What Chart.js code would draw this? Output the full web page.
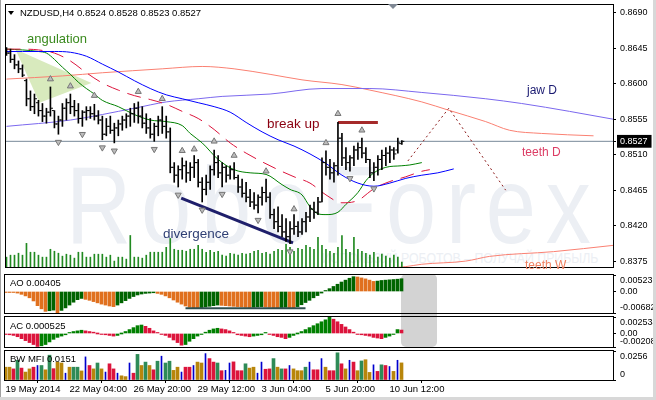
<!DOCTYPE html>
<html>
<head>
<meta charset="utf-8">
<script src="https://cdn.jsdelivr.net/npm/chart.js@4.4.1/dist/chart.umd.min.js"></script>
<style>
  body { margin: 0; background: #fff; }
  #wrap { position: relative; width: 656px; height: 400px; overflow: hidden; background: #fff;
          font-family: 'Liberation Sans', Arial, sans-serif; }
  #wrap canvas { position: absolute; left: 0; }
  .txt { position: absolute; white-space: nowrap; line-height: 1; }
  #mark { position: absolute; left: 66px; top: 150px; font: 110px 'Liberation Sans', Arial, sans-serif;
          line-height: 110px; letter-spacing: 12px; color: #eceff4; white-space: nowrap;
          transform: scaleX(0.82); transform-origin: left top; }
  #slogan { position: absolute; right: 58px; top: 250px; font: 15px 'Liberation Sans', Arial, sans-serif;
            line-height: 15px; color: #eceff4; white-space: nowrap;
            transform: scaleX(0.82); transform-origin: right top; }
  #hideBox { position: absolute; left: 401px; top: 274px; width: 36px; height: 73px; background: #d3d3d3; border-radius: 5px; }
  #shift { position: absolute; left: 388px; top: 4px; width: 0; height: 0; border-left: 5px solid transparent;
           border-right: 5px solid transparent; border-top: 5px solid #7f8894; }
  #menu { position: absolute; left: 8px; top: 11px; width: 0; height: 0; border-left: 3.5px solid transparent;
          border-right: 3.5px solid transparent; border-top: 4px solid #000; }
  #edgeL { position: absolute; left: 0; top: 0; width: 1px; height: 400px; background: #a0a0a0; }
  #edgeR { position: absolute; right: 0; top: 0; width: 3px; height: 400px; background: #d8d8d8; }
  #edgeB { position: absolute; left: 0; bottom: 0; width: 656px; height: 3px; background: #d8d8d8; }
</style>
</head>
<body>
<div id="wrap">
  <div id="mark">RoboForex</div>
  <div id="slogan">ИСПОЛЬЗУЙ РОБОТОВ – ПОЛУЧАЙ ПРИБЫЛЬ</div>
  <div id="hideBox"></div>
  <canvas id="mainCv" width="656" height="272" style="top:0"></canvas>
  <canvas id="aoCv" width="656" height="43" style="top:272px"></canvas>
  <canvas id="acCv" width="656" height="34" style="top:315px"></canvas>
  <canvas id="bwCv" width="656" height="51" style="top:349px"></canvas>
  <div id="menu"></div>
  <div id="shift"></div>
  <div class="txt" id="title" style="left:20px;top:8px;font-size:9.5px;color:#000"></div>
  <div class="txt" style="left:27px;top:32px;font-size:13px;color:#3a8a1e">angulation</div>
  <div class="txt" style="left:267px;top:117px;font-size:13.5px;color:#8b0010">break up</div>
  <div class="txt" style="left:163px;top:227px;font-size:13.5px;color:#2f3f74">divergence</div>
  <div class="txt" style="left:527px;top:84px;font-size:12px;color:#191970">jaw D</div>
  <div class="txt" style="left:522px;top:146px;font-size:12px;color:#dc3c64">teeth D</div>
  <div class="txt" style="left:525px;top:259px;font-size:12px;color:#f08060">teeth W</div>
  <div class="txt" id="aoLabel" style="left:10px;top:278px;font-size:9.5px;color:#000"></div>
  <div class="txt" id="acLabel" style="left:10px;top:321px;font-size:9.5px;color:#000"></div>
  <div class="txt" id="bwLabel" style="left:10px;top:354px;font-size:9.5px;color:#000"></div>
  <div id="edgeL"></div><div id="edgeR"></div><div id="edgeB"></div>
</div>
<script>
// ---- data ----
const symbol = 'NZDUSD,H4';
const dateTickIdx = [0, 16, 32, 48, 64, 80, 96];
const dateLabels = ['19 May 2014', '22 May 04:00', '26 May 20:00', '29 May 12:00', '3 Jun 04:00', '5 Jun 20:00', '10 Jun 12:00'];
const priceTicks = [0.8375, 0.8420, 0.8465, 0.8510, 0.8555, 0.8600, 0.8645, 0.8690];

const opens = [0.8644,0.8639,0.8631,0.8624,0.8619,0.8604,0.8581,0.8571,0.8576,0.8566,
  0.8559,0.8564,0.8566,0.8549,0.8554,0.8569,0.8576,0.8571,0.8566,0.8556,
  0.8564,0.8566,0.8562,0.8559,0.8554,0.8536,0.8546,0.8541,0.8544,0.8549,
  0.8554,0.8559,0.8562,0.8569,0.8559,0.8550,0.8544,0.8536,0.8546,0.8554,
  0.8546,0.8539,0.8494,0.8484,0.8491,0.8496,0.8487,0.8494,0.8500,0.8475,
  0.8466,0.8475,0.8491,0.8500,0.8487,0.8494,0.8484,0.8491,0.8481,0.8469,
  0.8461,0.8456,0.8450,0.8446,0.8456,0.8462,0.8456,0.8434,0.8425,0.8419,
  0.8412,0.8406,0.8416,0.8419,0.8412,0.8425,0.8431,0.8441,0.8437,0.8450,
  0.8500,0.8494,0.8487,0.8496,0.8531,0.8506,0.8500,0.8506,0.8516,0.8519,
  0.8512,0.8504,0.8487,0.8494,0.8504,0.8509,0.8512,0.8516,0.8516,0.8524];
const highs = [0.8646,0.8644,0.8637,0.8629,0.8624,0.8606,0.8591,0.8587,0.8579,0.8575,
  0.8569,0.8596,0.8566,0.8559,0.8575,0.8581,0.8587,0.8579,0.8575,0.8566,
  0.8571,0.8571,0.8574,0.8566,0.8559,0.8556,0.8559,0.8550,0.8554,0.8559,
  0.8562,0.8569,0.8575,0.8577,0.8571,0.8562,0.8556,0.8550,0.8559,0.8571,
  0.8559,0.8544,0.8500,0.8496,0.8506,0.8502,0.8500,0.8509,0.8504,0.8481,
  0.8484,0.8496,0.8516,0.8509,0.8500,0.8496,0.8496,0.8500,0.8484,0.8479,
  0.8475,0.8466,0.8462,0.8459,0.8469,0.8479,0.8462,0.8441,0.8444,0.8434,
  0.8429,0.8425,0.8434,0.8425,0.8429,0.8437,0.8446,0.8450,0.8456,0.8506,
  0.8515,0.8504,0.8500,0.8551,0.8537,0.8519,0.8509,0.8521,0.8525,0.8531,
  0.8519,0.8504,0.8500,0.8509,0.8516,0.8519,0.8521,0.8519,0.8531,0.8528];
const lows = [0.8636,0.8627,0.8619,0.8614,0.8609,0.8572,0.8566,0.8562,0.8559,0.8552,
  0.8550,0.8559,0.8544,0.8536,0.8546,0.8554,0.8562,0.8559,0.8550,0.8546,
  0.8554,0.8556,0.8554,0.8549,0.8529,0.8534,0.8537,0.8525,0.8534,0.8541,
  0.8544,0.8546,0.8551,0.8550,0.8544,0.8537,0.8531,0.8527,0.8534,0.8537,
  0.8531,0.8487,0.8475,0.8469,0.8479,0.8475,0.8477,0.8481,0.8469,0.8450,
  0.8459,0.8466,0.8484,0.8481,0.8469,0.8475,0.8479,0.8479,0.8462,0.8456,
  0.8450,0.8444,0.8441,0.8436,0.8446,0.8450,0.8429,0.8416,0.8412,0.8406,
  0.8400,0.8397,0.8409,0.8406,0.8409,0.8412,0.8425,0.8429,0.8434,0.8450,
  0.8484,0.8479,0.8475,0.8484,0.8496,0.8491,0.8489,0.8496,0.8504,0.8506,
  0.8500,0.8481,0.8477,0.8484,0.8491,0.8496,0.8500,0.8504,0.8512,0.8523];
const closes = [0.8639,0.8631,0.8624,0.8619,0.8611,0.8581,0.8571,0.8581,0.8566,0.8559,
  0.8564,0.8569,0.8549,0.8554,0.8569,0.8576,0.8571,0.8566,0.8556,0.8564,
  0.8566,0.8562,0.8559,0.8554,0.8536,0.8546,0.8541,0.8544,0.8549,0.8554,
  0.8559,0.8562,0.8569,0.8559,0.8550,0.8544,0.8536,0.8546,0.8554,0.8546,
  0.8539,0.8494,0.8484,0.8491,0.8496,0.8487,0.8494,0.8500,0.8475,0.8466,
  0.8475,0.8491,0.8500,0.8487,0.8494,0.8484,0.8491,0.8481,0.8469,0.8461,
  0.8456,0.8450,0.8446,0.8456,0.8462,0.8456,0.8434,0.8425,0.8419,0.8412,
  0.8406,0.8416,0.8419,0.8412,0.8425,0.8431,0.8441,0.8437,0.8450,0.8500,
  0.8494,0.8487,0.8496,0.8531,0.8506,0.8500,0.8506,0.8516,0.8519,0.8512,
  0.8504,0.8487,0.8494,0.8504,0.8509,0.8512,0.8516,0.8511,0.8525,0.8527];
const volumes = [400,480,480,560,480,960,600,600,480,400, 400,720,640,560,440,520,480,360,600,600,
  400,400,520,520,520,400,480,240,400,400, 320,1280,400,400,360,480,600,600,600,600,
  800,1160,720,680,680,640,720,720,880,720, 600,680,600,640,480,440,560,520,480,560,
  520,560,640,680,560,600,520,640,720,680, 920,800,640,760,720,880,800,720,1200,880,
  720,640,560,800,1280,720,600,1200,720,640, 560,480,600,400,520,440,360,480,400,200];

const fractalUpIdx = [11, 16, 22, 33, 39, 44, 47, 52, 57, 65, 72, 80, 83, 89];
const fractalUpVal = [0.8606, 0.8597, 0.8585, 0.8590, 0.8581, 0.8515, 0.8517, 0.8527, 0.8509, 0.8489, 0.8441, 0.8525, 0.8562, 0.8541];
const fractalDnIdx = [13, 19, 24, 27, 37, 43, 49, 54, 63, 71, 86, 92];
const fractalDnVal = [0.8526, 0.8536, 0.8519, 0.8515, 0.8517, 0.8459, 0.8440, 0.8460, 0.8427, 0.8387, 0.8480, 0.8467];

// H4 alligator (lines run past the last bar because of their shift)
const jawIdx = [0,4,8,12,16,20,24,28,32,36,40,44,48,52,56,60,64,68,72,76,80,84,88,92,96,100,104,108,112];
const jawVal = [0.8641,0.8641,0.8641,0.8641,0.8640,0.8635,0.8625,0.8615,0.8604,0.8594,0.8586,0.8581,0.8576,0.8571,
  0.8564,0.8551,0.8539,0.8529,0.8521,0.8511,0.8499,0.8484,0.8474,0.8470,0.8474,0.8480,0.8484,0.8487,0.8492];
const teethIdx = [0,4,8,12,16,20,24,28,32,36,40,44,48,52,56,60,64,68,72,76,80,84,88,92,96,100,104,106];
const teethVal = [0.8644,0.8644,0.8643,0.8639,0.8629,0.8614,0.8601,0.8592,0.8585,0.8580,0.8574,0.8565,0.8556,0.8542,
  0.8525,0.8512,0.8501,0.8491,0.8482,0.8474,0.8459,0.8449,0.8452,0.8467,0.8476,0.8482,0.8489,0.8491];
const lipsIdx = [0,4,8,10,12,14,16,18,20,22,24,28,32,36,40,44,46,49,53,57,61,65,69,71,74,76,78,80,83,85,88,90,92,95,99,101,104];
const lipsVal = [0.8644,0.8643,0.8641,0.8639,0.8631,0.8621,0.8612,0.8602,0.8594,0.8587,0.8579,0.8571,0.8561,0.8554,
  0.8552,0.8547,0.8537,0.8525,0.8504,0.8491,0.8487,0.8485,0.8472,0.8466,0.8459,0.8444,0.8435,0.8434,0.8437,0.8447,
  0.8462,0.8477,0.8487,0.8494,0.8496,0.8497,0.8500];

// daily / weekly alligator lines
const jawDIdx = [0,16,32,40,48,54,66,79,91,104,120,129,141,152];
const jawDVal = [0.8546,0.8554,0.8569,0.8577,0.8581,0.8584,0.8587,0.8594,0.8594,0.8589,0.8581,0.8575,0.8565,0.8555];
const teethDIdx = [0,14,24,39,49,57,66,74,84,91,104,111,120,126,134,147];
const teethDVal = [0.8606,0.8610,0.8614,0.8619,0.8622,0.8619,0.8612,0.8605,0.8599,0.8592,0.8577,0.8566,0.8552,0.8541,0.8537,0.8534];
const teethWIdx = [85,100,104,115,121,137,152];
const teethWVal = [0.8362,0.8368,0.8371,0.8375,0.8381,0.8387,0.8395];

// hand drawn objects
const forecastIdx = [100.5, 110.75, 125];
const forecastVal = [0.8502, 0.8569, 0.8465];
const breakUpIdx = [83, 93];
const breakUpLevel = 0.8551;
const divergenceIdx = [43.75, 71.75];
const divergenceVal = [0.8455, 0.8398];
const angulationIdx = [2.25, 21.25, 8.25, 2.25];
const angulationVal = [0.8644, 0.8601, 0.8576, 0.8644];

// oscillators
const ao = [-0.0001,-0.0002,-0.0003,-0.0005,-0.0009,-0.0014,-0.0020,-0.0030,-0.0045,-0.0055,
  -0.0063,-0.0061,-0.0059,-0.0068,-0.0060,-0.0052,-0.0043,-0.0034,-0.0026,-0.0022,
  -0.0025,-0.0028,-0.0032,-0.0036,-0.0040,-0.0043,-0.0046,-0.0048,-0.0043,-0.0036,
  -0.0029,-0.0022,-0.0016,-0.0011,-0.0008,-0.0006,-0.0005,-0.0004,-0.0006,-0.0009,
  -0.0014,-0.0020,-0.0027,-0.0034,-0.0040,-0.0046,-0.0050,-0.0052,-0.0053,-0.0051,
  -0.0049,-0.0047,-0.0045,-0.0043,-0.0044,-0.0045,-0.0046,-0.0047,-0.0048,-0.0049,
  -0.0050,-0.0051,-0.0050,-0.0049,-0.0048,-0.0049,-0.0050,-0.0051,-0.0052,-0.0051,
  -0.0050,-0.0051,-0.0052,-0.0048,-0.0042,-0.0035,-0.0028,-0.0020,-0.0013,-0.0005,
  0.0002,0.0009,0.0016,0.0023,0.0030,0.0036,0.0042,0.0047,0.0046,0.0043,
  0.0040,0.0036,0.0032,0.0033,0.0035,0.0036,0.0037,0.0038,0.0039,0.00405];
const aoTicks = [0.00523, 0, -0.00682];
const aoTickText = ['0.00523', '0.00', '-0.00682'];
const aoDivIdx = [45, 75];
const aoDivLevel = -0.0053;

const ac = [-0.0001,-0.0002,-0.0003,-0.0005,-0.0008,-0.0011,-0.0014,-0.0017,-0.0020,-0.0019,
  -0.0017,-0.0013,-0.0009,-0.0006,-0.0004,-0.0002,0.0001,0.0003,0.0004,0.0005,
  0.0004,0.0003,0.0002,0.0000,-0.0001,-0.0002,-0.0003,-0.0004,-0.0003,0.0000,
  0.0003,0.0006,0.0009,0.0012,0.0013,0.0011,0.0008,0.0004,0.0001,-0.0001,
  -0.0003,-0.0006,-0.0010,-0.0014,-0.0018,-0.0017,-0.0012,-0.0008,-0.0004,-0.0001,
  0.0002,0.0005,0.0007,0.0008,0.0007,0.0006,0.0004,0.0001,-0.0002,-0.0003,
  -0.0004,-0.0005,-0.0004,-0.0003,-0.0002,0.0001,-0.0001,-0.0003,-0.0005,-0.0006,
  -0.0008,-0.0006,-0.0003,0.0000,0.0003,0.0006,0.0009,0.0012,0.0015,0.0018,
  0.0021,0.0025,0.0022,0.0018,0.0014,0.0010,0.0006,0.0002,-0.0001,-0.0002,
  -0.0003,-0.0004,-0.0006,-0.0007,-0.0008,-0.0006,-0.0004,-0.0001,0.0006,0.000525];
const acTicks = [0.002534, 0, -0.00208];
const acTickText = ['0.002534', '0.00', '-0.00208'];

const mfi = [0.0113,0.0113,0.0098,0.0174,0.0105,0.0070,0.0098,0.0113,0.0128,0.0128,
  0.0090,0.0219,0.0100,0.0158,0.0150,0.0060,0.0113,0.0113,0.0113,0.0080,
  0.0204,0.0128,0.0098,0.0150,0.0098,0.0070,0.0143,0.0098,0.0060,0.0037,
  0.0030,0.0150,0.0060,0.0226,0.0128,0.0158,0.0128,0.0090,0.0166,0.0210,
  0.0150,0.0166,0.0085,0.0113,0.0070,0.0113,0.0113,0.0128,0.0158,0.0150,
  0.0233,0.0189,0.0158,0.0150,0.0082,0.0085,0.0150,0.0160,0.0082,0.0082,
  0.0143,0.0105,0.0113,0.0060,0.0158,0.0095,0.0098,0.0189,0.0113,0.0098,
  0.0098,0.0128,0.0098,0.0082,0.0082,0.0113,0.0158,0.0090,0.0090,0.0189,
  0.0113,0.0082,0.0082,0.0240,0.0143,0.0098,0.0174,0.0158,0.0082,0.0168,
  0.0179,0.0067,0.0134,0.0076,0.0134,0.0128,0.0119,0.0076,0.0174,0.0151];
// g = green, y = fade, r = squat, b = fake
const mfiKind = ('yyrgryyrbg' + 'ygryybyggy' + 'brygybrrby' + 'ybrgygyrgb' + 'ggyybrrbyy' +
  'brrgrbbrrr' + 'gyybbrrgyg' + 'rbyyygbrrb' + 'yrrgrybryg' + 'yybrgrbyby').split('');
const bwTicks = [0.0256, 0];
const bwTickText = ['0.0256', '0'];

// ---- axis ranges ----
const xMin = -0.375, xMax = 151.875;
const priceMin = 0.83675, priceMax = 0.87;
const volMax = 10640;

const last = closes.length - 1;
const lastClose = closes[last];
const idx = closes.map((_, i) => i);

document.getElementById('title').textContent =
  `${symbol}  ${opens[last].toFixed(4)} ${highs[last].toFixed(4)} ${lows[last].toFixed(4)} ${lastClose.toFixed(4)}`;
document.getElementById('aoLabel').textContent = 'AO ' + ao[last].toFixed(5);
document.getElementById('acLabel').textContent = 'AC ' + ac[last].toFixed(6);
document.getElementById('bwLabel').textContent = 'BW MFI ' + mfi[last].toFixed(4);

Chart.defaults.font.family = "'Liberation Sans', Arial, sans-serif";
Chart.defaults.color = '#000';

const pts = (xs, ys) => xs.map((x, i) => ({ x, y: ys[i] }));
const lineDs = (xs, ys, color, extra) => Object.assign({
  type: 'line', data: pts(xs, ys), borderColor: color, borderWidth: 1,
  pointRadius: 0, fill: false, cubicInterpolationMode: 'monotone'
}, extra);
const straight = (xs, ys, color, extra) => lineDs(xs, ys, color, Object.assign({ cubicInterpolationMode: 'default', tension: 0 }, extra));
const rising = (arr, i, up, down) => (i > 0 && arr[i] > arr[i - 1]) ? up : down;

// black frame round each panel
const framePlugin = {
  id: 'frame',
  afterDraw(chart) {
    const a = chart.chartArea, ctx = chart.ctx;
    ctx.save();
    ctx.strokeStyle = '#000';
    ctx.lineWidth = 1;
    ctx.strokeRect(a.left + 0.5, a.top - 0.5, a.right - a.left, a.bottom - a.top + 1);
    ctx.restore();
  }
};

const baseOpts = {
  responsive: false, animation: false, devicePixelRatio: 1, events: [],
  plugins: { legend: { display: false }, tooltip: { enabled: false } }
};

function xScale(show) {
  return {
    type: 'linear', min: xMin, max: xMax, offset: false, display: show,
    grid: { drawOnChartArea: false, drawTicks: true, tickLength: 3, color: '#000' },
    border: { display: false },
    afterBuildTicks: s => { s.ticks = dateTickIdx.map(v => ({ value: v })); },
    afterFit: s => { if (show) { s.height = 20; s.paddingLeft = 0; s.paddingRight = 0; } },
    ticks: { autoSkip: false, maxRotation: 0, minRotation: 0, align: 'start', padding: 1, font: { size: 9.5 },
      callback: (v, i) => dateLabels[i] }
  };
}

// right hand scale of a sub window; edge labels are pushed inside like MT4 does
function sideScale(tickVals, tickText) {
  return {
    position: 'right', min: Math.min(...tickVals), max: Math.max(...tickVals),
    grid: { drawOnChartArea: false, tickLength: 3, color: '#000' },
    border: { display: false },
    afterBuildTicks: s => { s.ticks = tickVals.map(v => ({ value: v })); },
    afterFit: s => { s.width = 43; s.paddingTop = 0; s.paddingBottom = 0; },
    ticks: { autoSkip: false, padding: 4, font: { size: 9 },
      callback: (v, i) => i === 0 ? ['', tickText[i]] : (i === tickVals.length - 1 ? [tickText[i], ''] : tickText[i]) }
  };
}

const isLast = c => !!(c.tick && c.tick.value === lastClose);

new Chart(document.getElementById('mainCv'), {
  type: 'bar',
  data: { datasets: [
    straight(angulationIdx, angulationVal, 'rgba(0,0,0,0)', { fill: 'shape', backgroundColor: '#d8eabd', borderWidth: 0, order: 100 }),
    lineDs(jawDIdx, jawDVal, '#7b68ee', { order: 90 }),
    lineDs(teethDIdx, teethDVal, '#fa8072', { order: 90 }),
    lineDs(teethWIdx, teethWVal, '#fa8072', { order: 90 }),
    { type: 'bar', data: pts(idx, volumes), yAxisID: 'vol', backgroundColor: '#218a21', barThickness: 1, grouped: false, order: 80 },
    straight([xMin, xMax], [lastClose, lastClose], '#778899', { order: 75 }),
    lineDs(jawIdx, jawVal, '#0000ff', { order: 60 }),
    lineDs(teethIdx, teethVal, '#dc143c', { borderDash: [14, 8], order: 60 }),
    lineDs(lipsIdx, lipsVal, '#008000', { order: 60 }),
    straight(forecastIdx, forecastVal, '#8b1a1a', { borderDash: [2, 3], order: 55 }),
    straight(divergenceIdx, divergenceVal, '#1f1f6b', { borderWidth: 3, order: 50 }),
    straight(breakUpIdx, [breakUpLevel, breakUpLevel], '#a52a2a', { borderWidth: 3, order: 50 }),
    { type: 'bar', data: idx.map(i => ({ x: i, y: [lows[i], highs[i]] })), backgroundColor: '#000',
      barThickness: 1, grouped: false, order: 20 },
    { type: 'scatter', data: pts(idx.map(i => i - 0.375), opens), pointStyle: 'line', pointRadius: 1,
      pointBorderColor: '#000', pointBorderWidth: 1, order: 20 },
    { type: 'scatter', data: pts(idx.map(i => i + 0.375), closes), pointStyle: 'line', pointRadius: 1,
      pointBorderColor: '#000', pointBorderWidth: 1, order: 20 },
    { type: 'scatter', data: pts(fractalUpIdx, fractalUpVal), pointStyle: 'triangle', pointRadius: 3.5,
      pointBackgroundColor: '#bcbcbc', pointBorderColor: '#767676', pointBorderWidth: 1, order: 10 },
    { type: 'scatter', data: pts(fractalDnIdx, fractalDnVal), pointStyle: 'triangle', pointRadius: 3.5, pointRotation: 180,
      pointBackgroundColor: '#bcbcbc', pointBorderColor: '#767676', pointBorderWidth: 1, order: 10 }
  ]},
  options: Object.assign({}, baseOpts, {
    layout: { padding: { left: 4, top: 5, right: 0, bottom: 1 } },
    scales: {
      x: xScale(false),
      y: {
        position: 'right', min: priceMin, max: priceMax,
        grid: { drawOnChartArea: false, tickLength: 3, color: '#000' },
        border: { display: false },
        afterBuildTicks: s => { s.ticks = priceTicks.concat([lastClose]).map(v => ({ value: v })); },
        afterFit: s => { s.width = 43; s.paddingTop = 0; s.paddingBottom = 0; },
        ticks: { autoSkip: false, padding: 4, font: { size: 9 },
          color: c => isLast(c) ? '#fff' : '#000',
          showLabelBackdrop: c => isLast(c),
          backdropColor: '#000',
          backdropPadding: { left: 3, right: 4, top: 1, bottom: 1 },
          callback: v => v.toFixed(4) }
      },
      vol: { axis: 'y', type: 'linear', display: false, min: 0, max: volMax }
    }
  }),
  plugins: [framePlugin]
});

new Chart(document.getElementById('aoCv'), {
  type: 'bar',
  data: { datasets: [
    { data: pts(idx, ao), backgroundColor: c => rising(ao, c.dataIndex, '#006400', '#e0701e'),
      barThickness: 3, grouped: false, minBarLength: 1, order: 20 },
    straight(aoDivIdx, [aoDivLevel, aoDivLevel], '#2f4f4f', { borderWidth: 2, order: 10 })
  ]},
  options: Object.assign({}, baseOpts, {
    layout: { padding: { left: 4, top: 3, right: 0, bottom: 2 } },
    scales: { x: xScale(false), y: sideScale(aoTicks, aoTickText) }
  }),
  plugins: [framePlugin]
});

new Chart(document.getElementById('acCv'), {
  type: 'bar',
  data: { datasets: [
    { data: pts(idx, ac), backgroundColor: c => rising(ac, c.dataIndex, '#008000', '#dc143c'),
      barThickness: 3, grouped: false, minBarLength: 1 }
  ]},
  options: Object.assign({}, baseOpts, {
    layout: { padding: { left: 4, top: 2, right: 0, bottom: 2 } },
    scales: { x: xScale(false), y: sideScale(acTicks, acTickText) }
  }),
  plugins: [framePlugin]
});

const mfiColors = { g: '#2e8b57', y: '#b8860b', r: '#dc143c', b: '#0000cd' };
new Chart(document.getElementById('bwCv'), {
  type: 'bar',
  data: { datasets: [
    { data: pts(idx, mfi.map((v, i) => mfiKind[i] === 'b' ? null : v)),
      backgroundColor: c => mfiColors[mfiKind[c.dataIndex]], barThickness: 3, grouped: false },
    { data: pts(idx, mfi.map((v, i) => mfiKind[i] === 'b' ? v : null)),
      backgroundColor: mfiColors.b, barThickness: 1, grouped: false }
  ]},
  options: Object.assign({}, baseOpts, {
    layout: { padding: { left: 4, top: 2, right: 0, bottom: 0 } },
    scales: { x: xScale(true), y: sideScale(bwTicks, bwTickText) }
  }),
  plugins: [framePlugin]
});
</script>
</body>
</html>
